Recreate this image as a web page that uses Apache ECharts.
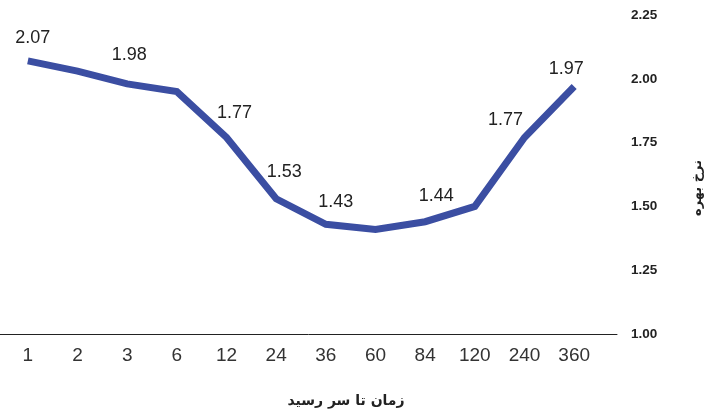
<!DOCTYPE html>
<html>
<head>
<meta charset="utf-8">
<script src="https://cdn.jsdelivr.net/npm/echarts@6/dist/echarts.min.js"></script>
<style>
  html, body { margin: 0; padding: 0; background: #fff; }
  #chart { width: 722px; height: 411px; }
</style>
</head>
<body>
<div id="chart"></div>
<script>
// Maturities (months) and the yield at each one
const maturities = ['1', '2', '3', '6', '12', '24', '36', '60', '84', '120', '240', '360'];
const rates = [2.07, 2.03, 1.98, 1.95, 1.77, 1.53, 1.43, 1.41, 1.44, 1.50, 1.77, 1.97];
// Which points carry a value label
const labelled = [true, false, true, false, true, true, true, false, true, false, true, true];
// Label nudges (px) so text sits clear of the thick line
const labelNudge = [[5, -23], [0, 0], [2, -29], [0, 0], [8, -24], [8, -27], [10, -22], [0, 0], [11, -26], [0, 0], [-19, -17], [-8, -17]];

const yTicks = { min: 1.0, max: 2.25, step: 0.25 };

const lineColor = '#3B4EA2';

const seriesData = rates.map((v, i) => ({
  value: v,
  label: {
    show: labelled[i],
    position: 'inside',
    align: 'center',
    verticalAlign: 'middle',
    offset: labelNudge[i],
    formatter: () => v.toFixed(2)
  }
}));

const chart = echarts.init(document.getElementById('chart'));
chart.setOption({
  animation: false,
  backgroundColor: '#ffffff',
  grid: [
    { left: 3, width: 596, top: 15, height: 319, outerBoundsMode: 'none', containLabel: false },
    { left: 0, width: 617, top: 15, height: 319, outerBoundsMode: 'none', containLabel: false }
  ],
  xAxis: [
    {
      type: 'category',
      gridIndex: 0,
      data: maturities,
      boundaryGap: true,
      axisLine: { show: false },
      axisTick: { show: false },
      axisLabel: {
        margin: 12,
        fontFamily: '"Liberation Sans Narrow", "Arial Narrow", "Liberation Sans", Arial, sans-serif',
        fontSize: 19,
        color: '#333'
      },
      name: 'زمان تا سر رسید',
      nameLocation: 'middle',
      nameGap: 60,
      nameTextStyle: {
        fontFamily: '"DejaVu Sans", sans-serif',
        fontWeight: 'bold',
        fontSize: 14,
        color: '#222',
        padding: [0, 0, 0, 90]
      }
    },
    {
      type: 'value',
      gridIndex: 1,
      min: 0,
      max: 1,
      axisLine: { show: true, lineStyle: { color: '#222', width: 1 } },
      axisTick: { show: false },
      axisLabel: { show: false },
      splitLine: { show: false }
    }
  ],
  yAxis: [
    {
      type: 'value',
      gridIndex: 0,
      position: 'right',
      min: yTicks.min,
      max: yTicks.max,
      interval: yTicks.step,
      axisLine: { show: false },
      axisTick: { show: false },
      splitLine: { show: false },
      axisLabel: {
        margin: 32,
        formatter: v => v.toFixed(2),
        fontFamily: '"Liberation Sans", Arial, sans-serif',
        fontWeight: 'bold',
        fontSize: 13.5,
        color: '#222'
      },
      name: 'نرخ بهره',
      nameLocation: 'middle',
      nameRotate: 90,
      nameGap: 92,
      nameTextStyle: {
        fontFamily: '"DejaVu Sans", sans-serif',
        fontWeight: 'bold',
        fontSize: 13,
        color: '#222',
        padding: [0, 27, 0, 0]
      }
    },
    {
      type: 'value',
      gridIndex: 1,
      show: false
    }
  ],
  series: [
    {
      type: 'line',
      xAxisIndex: 0,
      yAxisIndex: 0,
      data: seriesData,
      symbol: 'circle',
      symbolSize: 0.1,
      showSymbol: true,
      itemStyle: { color: lineColor },
      lineStyle: { color: lineColor, width: 7, cap: 'butt', join: 'miter' },
      label: {
        fontFamily: '"Liberation Sans", Arial, sans-serif',
        fontSize: 18,
        color: '#222'
      },
      emphasis: { disabled: true }
    }
  ]
});
</script>
</body>
</html>
